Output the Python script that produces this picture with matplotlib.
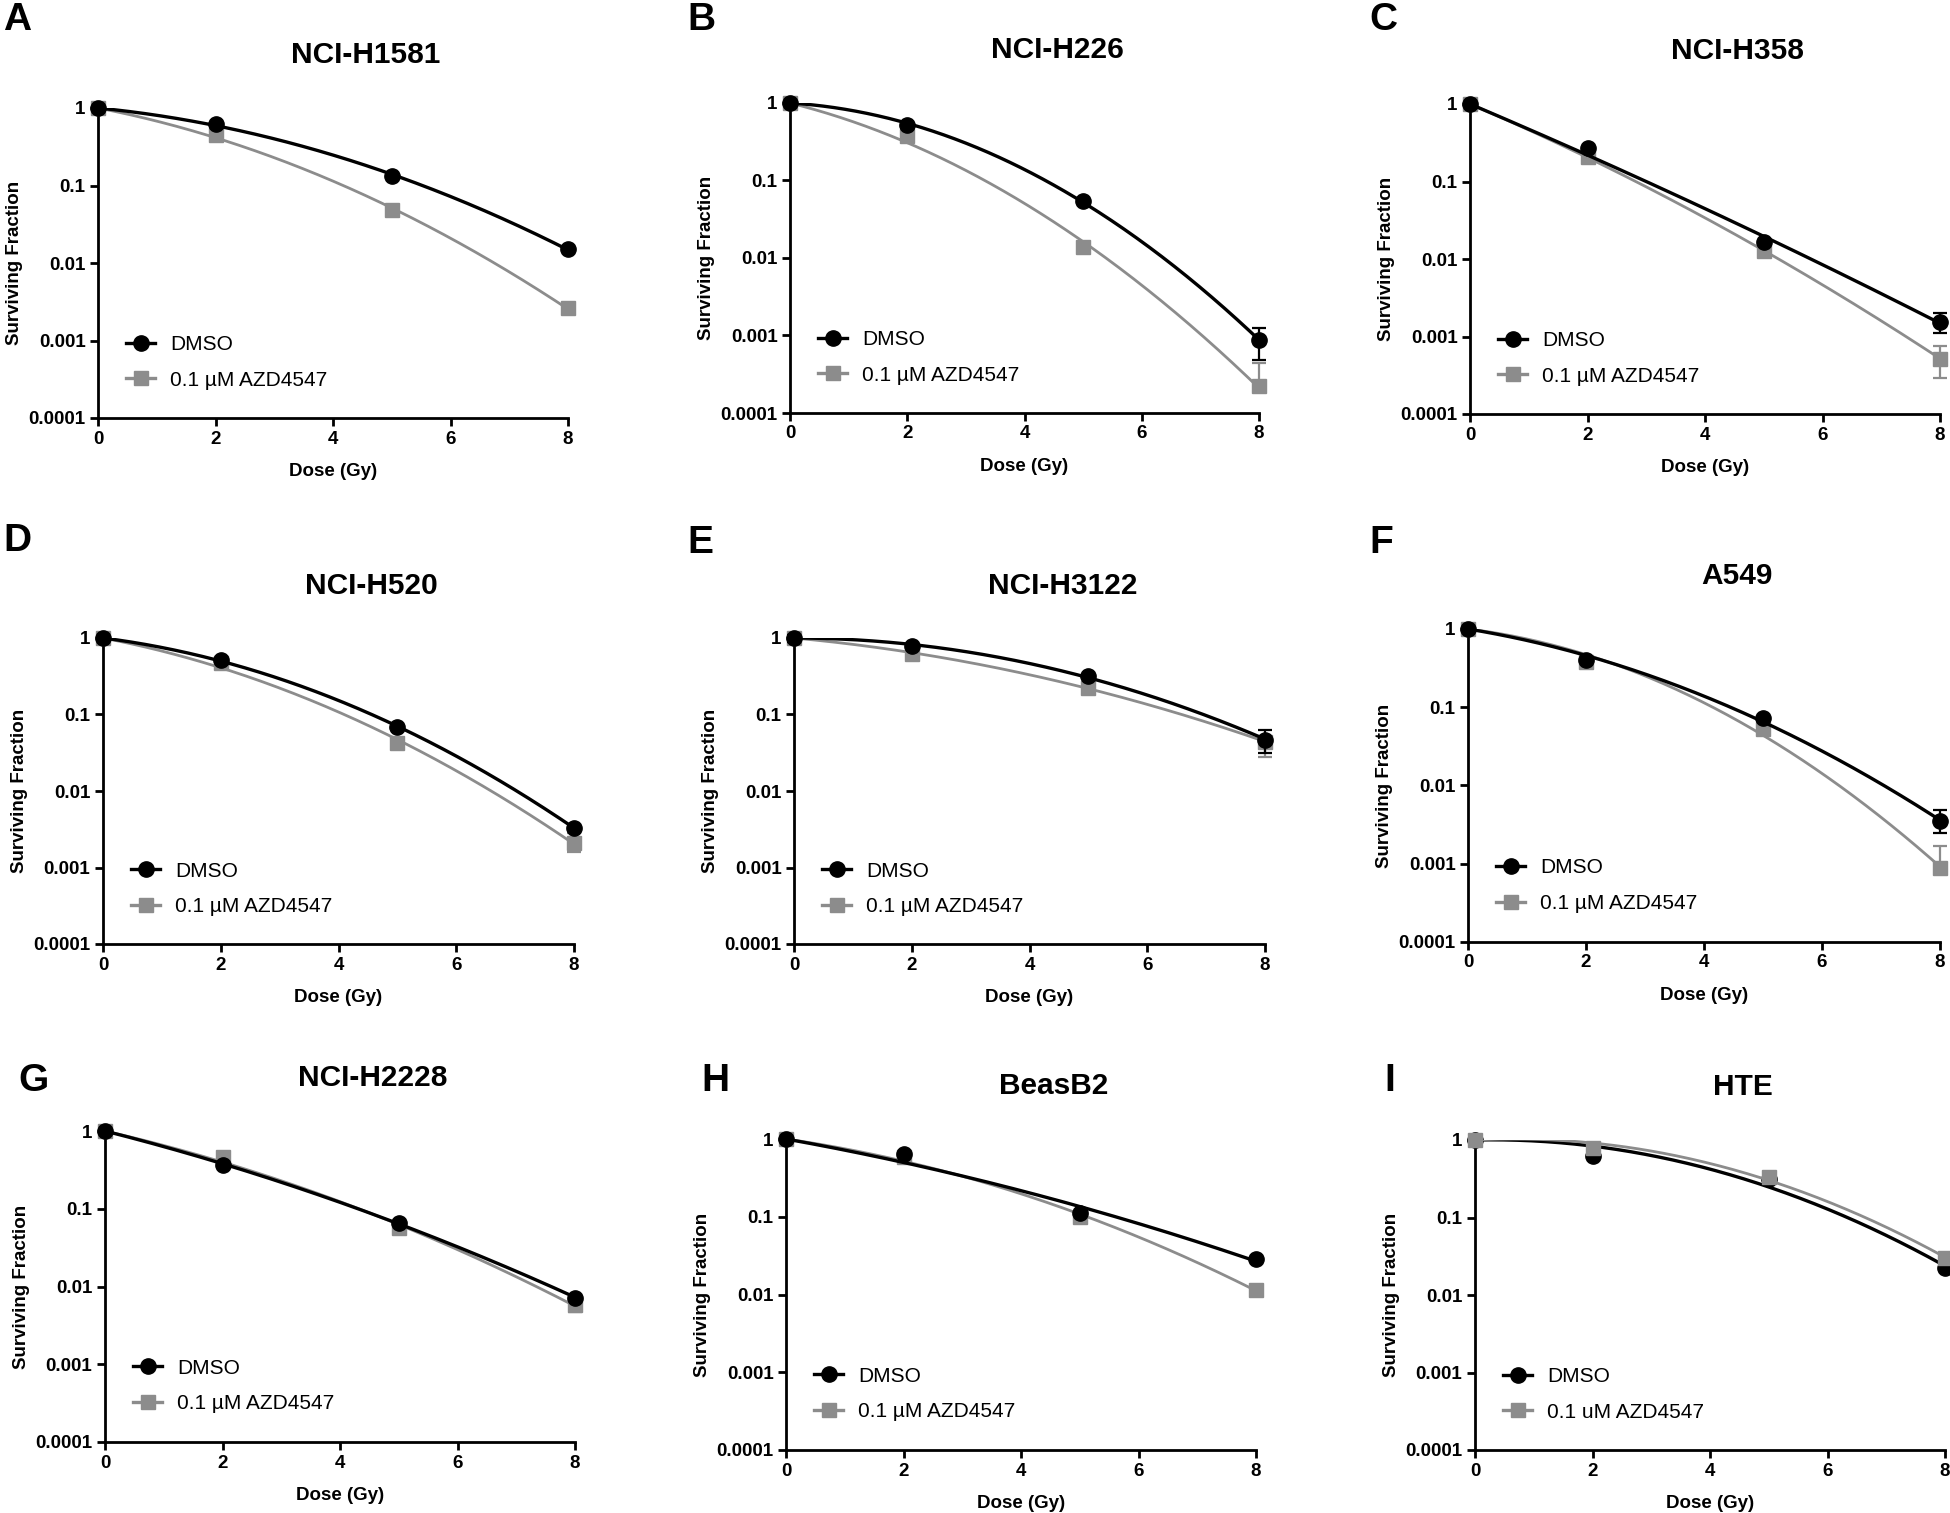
import numpy as np
import matplotlib
matplotlib.use('Agg')
import matplotlib.pyplot as plt
from matplotlib.ticker import FixedLocator, FixedFormatter, NullLocator

plt.rcParams['font.family'] = ['Liberation Sans', 'DejaVu Sans']

# %%
# Data (surviving fraction at each dose)
dose = [0, 2, 5, 8]
panel_letters = ['A', 'B', 'C', 'D', 'E', 'F', 'G', 'H', 'I']
cell_lines = ['NCI-H1581', 'NCI-H226', 'NCI-H358',
              'NCI-H520', 'NCI-H3122', 'A549',
              'NCI-H2228', 'BeasB2', 'HTE']

dmso = [
    [1, 0.63, 0.133, 0.015],
    [1, 0.525, 0.054, 0.00087],
    [1, 0.268, 0.0167, 0.00156],
    [1, 0.51, 0.069, 0.0033],
    [1, 0.78, 0.316, 0.047],
    [1, 0.405, 0.072, 0.0035],
    [1, 0.365, 0.066, 0.0072],
    [1, 0.64, 0.111, 0.0285],
    [1, 0.62, 0.314, 0.022],
]
azd = [
    [1, 0.45, 0.048, 0.0026],
    [1, 0.37, 0.014, 0.00022],
    [1, 0.205, 0.0128, 0.00052],
    [1, 0.47, 0.042, 0.0021],
    [1, 0.625, 0.223, 0.044],
    [1, 0.38, 0.052, 0.00087],
    [1, 0.458, 0.056, 0.0058],
    [1, 0.58, 0.099, 0.0115],
    [1, 0.80, 0.336, 0.0297],
]
# error bar ends (low, high) per dose, None = no visible bar
dmso_err = [
    [None, None, None, None],
    [None, None, None, (0.00048, 0.00125)],
    [None, None, None, (0.00112, 0.00203)],
    [None, None, None, None],
    [(0.88, 1.1), None, None, (0.031, 0.063)],
    [None, None, None, (0.0025, 0.0048)],
    [None, None, None, None],
    [None, None, None, None],
    [None, None, None, None],
]
azd_err = [
    [None, None, None, None],
    [None, None, None, (0.0002, 0.00044)],
    [None, None, None, (0.00029, 0.00076)],
    [None, None, None, (0.0016, 0.0028)],
    [None, None, None, (0.028, 0.05)],
    [None, None, None, (0.0008, 0.0017)],
    [None, None, None, (0.0047, 0.0062)],
    [None, None, None, None],
    [None, None, None, None],
]
azd_labels = ['0.1 \u00b5M AZD4547'] * 8 + ['0.1 uM AZD4547']
gray_on_top = [False] * 8 + [True]

# %%
# Layout (pixel boxes of each plot area: x0, x8, y_top, y_bottom)
W, H = 1950, 1513
boxes = [
    (98, 568, 108, 418), (790, 1259, 103, 413), (1470, 1940, 104, 414),
    (103, 574, 638, 944), (794, 1265, 638, 944), (1468, 1940, 629, 942),
    (105, 575, 1131, 1442), (786, 1256, 1139, 1450), (1475, 1945, 1140, 1450),
]
letter_pos = [(17, 20), (701, 20), (1383, 20),
              (17, 541), (700, 543), (1381, 543),
              (33, 1081), (715, 1081), (1390, 1081)]

GRAY = '#8c8c8c'


def lq_fit(x, y):
    # linear-quadratic fit of ln(SF) through the origin
    x = np.asarray(x, float)
    A = np.column_stack([x, x ** 2])
    coef = np.linalg.lstsq(A, np.log(y), rcond=None)[0]
    xs = np.linspace(0, 8, 300)
    return xs, np.exp(coef[0] * xs + coef[1] * xs ** 2)


def draw_errs(ax, errs, color, z):
    for d, e in zip(dose, errs):
        if e is None:
            continue
        ax.vlines(d, e[0], e[1], color=color, lw=1.6, zorder=z, clip_on=False)
        ax.hlines([e[0], e[1]], d - 0.12, d + 0.12, color=color, lw=1.6,
                  zorder=z, clip_on=False)


fig = plt.figure(figsize=(W / 100, H / 100), dpi=100)

for i in range(9):
    x0, x8, yt, yb = boxes[i]
    ax = fig.add_axes([x0 / W, 1 - yb / H, (x8 - x0) / W, (yb - yt) / H])
    zb, zg = (4, 3) if not gray_on_top[i] else (3, 4)

    xs, fit_g = lq_fit(dose, azd[i])
    ax.plot(xs, fit_g, color=GRAY, lw=2.0, zorder=zg)
    draw_errs(ax, azd_err[i], GRAY, zg)
    ax.plot(dose, azd[i], 's', color=GRAY, ms=10, zorder=zg + 0.5, clip_on=False)

    xs, fit_b = lq_fit(dose, dmso[i])
    ax.plot(xs, fit_b, color='black', lw=2.4, zorder=zb)
    draw_errs(ax, dmso_err[i], 'black', zb)
    ax.plot(dose, dmso[i], 'o', color='black', ms=11, zorder=zb + 0.5, clip_on=False)

    # legend proxies (line + marker)
    h1, = ax.plot([], [], '-o', color='black', lw=2.4, ms=11)
    h2, = ax.plot([], [], '-s', color=GRAY, lw=2.4, ms=10)
    ax.legend([h1, h2], ['DMSO', azd_labels[i]], loc='center left',
              bbox_to_anchor=(0.06, 0.18), frameon=False, fontsize=15,
              handlelength=1.4, handletextpad=0.7, labelspacing=0.8,
              borderpad=0, borderaxespad=0)

    ax.set_yscale('log')
    ax.set_xlim(0, 8)
    ax.set_ylim(1e-4, 1)
    ax.yaxis.set_major_locator(FixedLocator([1e-4, 1e-3, 1e-2, 1e-1, 1]))
    ax.yaxis.set_major_formatter(FixedFormatter(['0.0001', '0.001', '0.01', '0.1', '1']))
    ax.yaxis.set_minor_locator(NullLocator())
    ax.set_xticks([0, 2, 4, 6, 8])
    for s in ['top', 'right']:
        ax.spines[s].set_visible(False)
    for s in ['left', 'bottom']:
        ax.spines[s].set_linewidth(2)
    ax.tick_params(width=2, length=6, labelsize=13.5, pad=3)
    for lab in ax.get_xticklabels() + ax.get_yticklabels():
        lab.set_fontweight('bold')
    ax.set_xlabel('Dose (Gy)', fontsize=13.5, fontweight='bold', labelpad=11)
    ax.set_ylabel('Surviving Fraction', fontsize=13.5, fontweight='bold', labelpad=4)

    ax.text(0.57, 1.17, cell_lines[i], transform=ax.transAxes, ha='center',
            va='center', fontsize=21.5, fontweight='bold')

    lx, ly = letter_pos[i]
    fig.text(lx / W, 1 - ly / H, panel_letters[i], ha='center', va='center',
             fontsize=28, fontweight='bold')

fig.savefig('out.png', dpi=100)
